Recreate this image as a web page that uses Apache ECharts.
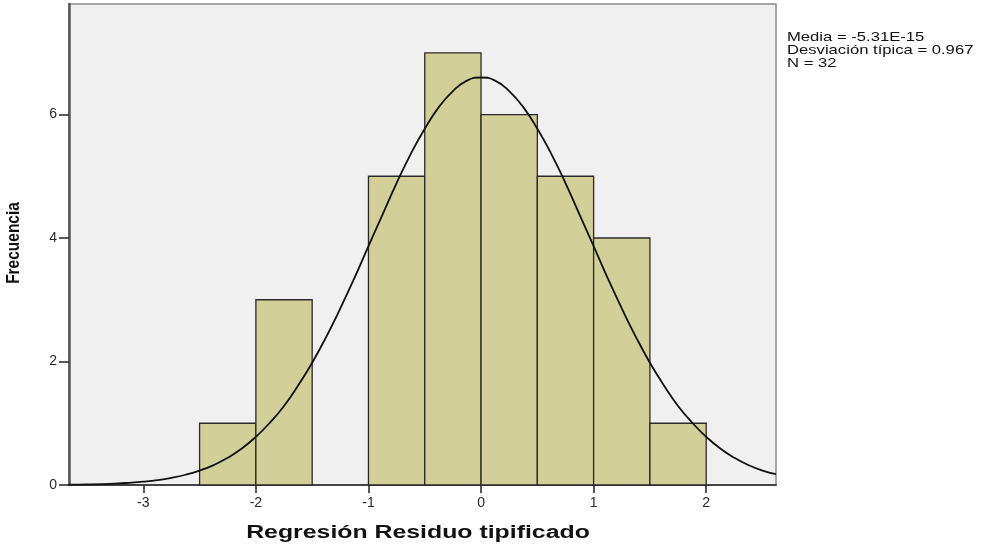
<!DOCTYPE html>
<html><head><meta charset="utf-8">
<script src="https://cdn.jsdelivr.net/npm/echarts@6/dist/echarts.min.js"></script>
<style>html,body{margin:0;padding:0;background:#fff}#c{width:995px;height:548px}</style>
</head><body><div id="c"></div>
<script>
// Histogram bins (start, end) and counts
const binStart = [-2.5, -2.0, -1.5, -1.0, -0.5, 0.0, 0.5, 1.0, 1.5];
const binEnd   = [-2.0, -1.5, -1.0, -0.5, 0.0, 0.5, 1.0, 1.5, 2.0];
const counts   = [1, 3, 0, 5, 7, 6, 5, 4, 1];
// Normal curve points
const curveX = [-3.66,-3.5,-3.25,-3.125,-3.0,-2.875,-2.75,-2.625,-2.5,-2.375,-2.25,-2.125,-2.0,-1.875,-1.75,-1.625,-1.5,-1.375,-1.25,-1.125,-1.0,-0.875,-0.75,-0.625,-0.5,-0.375,-0.25,-0.125,0.0,0.125,0.25,0.375,0.5,0.625,0.75,0.875,1.0,1.125,1.25,1.375,1.5,1.625,1.75,1.875,2.0,2.125,2.25,2.375,2.5,2.62];
const curveY = [0.005,0.009,0.023,0.036,0.054,0.079,0.116,0.166,0.233,0.323,0.44,0.59,0.78,1.01,1.28,1.61,1.98,2.40,2.86,3.35,3.87,4.38,4.89,5.36,5.77,6.12,6.38,6.55,6.60,6.55,6.38,6.12,5.77,5.36,4.89,4.38,3.87,3.35,2.86,2.40,1.98,1.61,1.28,1.01,0.78,0.59,0.44,0.323,0.233,0.175];
const xTicks = [-3, -2, -1, 0, 1, 2];
const yTicks = [0, 2, 4, 6];
const xTitle = 'Regresión Residuo tipificado';
const yTitle = 'Frecuencia';
const statsLines = ['Media = -5.31E-15', 'Desviación típica = 0.967', 'N = 32'];

const chart = echarts.init(document.getElementById('c'), null, {renderer: 'canvas'});
const rectData = binStart.map((s, i) => [s, binEnd[i], counts[i]]).filter(d => d[2] > 0);

chart.setOption({
  animation: false,
  grid: {left: 69, right: 219, top: 4, bottom: 63, show: true, backgroundColor: '#f0f0f0', borderColor: '#8c8c8c', borderWidth: 1.5},
  xAxis: {
    type: 'value', min: -3.66, max: 2.62,
    axisLine: {show: true, onZero: false, lineStyle: {color: '#444', width: 2}},
    axisTick: {show: true, length: 8, customValues: xTicks, lineStyle: {color: '#222', width: 1.5}},
    axisLabel: {customValues: xTicks, fontFamily: 'Liberation Sans', fontSize: 14, color: '#2a2a2a', margin: 11},
    splitLine: {show: false}
  },
  yAxis: {
    type: 'value', min: 0, max: 7.79,
    axisLine: {show: true, onZero: false, lineStyle: {color: '#555', width: 2.5}},
    axisTick: {show: true, length: 10, customValues: yTicks, lineStyle: {color: '#222', width: 1.5}},
    axisLabel: {customValues: yTicks, fontFamily: 'Liberation Sans', fontSize: 14, color: '#2a2a2a', margin: 12},
    splitLine: {show: false}
  },
  series: [
    {
      type: 'custom',
      data: rectData,
      encode: {x: [0, 1], y: 2},
      renderItem: function (params, api) {
        const p0 = api.coord([api.value(0), api.value(2)]);
        const p1 = api.coord([api.value(1), 0]);
        return {
          type: 'rect',
          shape: {x: p0[0], y: p0[1], width: p1[0] - p0[0], height: p1[1] - p0[1]},
          style: {fill: '#d3cf98', stroke: '#2a2a2a', lineWidth: 1.3}
        };
      },
      z: 2
    },
    {
      type: 'line',
      data: curveX.map((x, i) => [x, curveY[i]]),
      smooth: true,
      showSymbol: false,
      lineStyle: {color: '#111', width: 1.8},
      z: 3
    }
  ],
  graphic: [
    {
      type: 'text', x: 787, y: 31, scaleX: 1.28,
      style: {text: statsLines.join('\n'), fontFamily: 'Liberation Sans', fontSize: 13, lineHeight: 13, fill: '#111'}
    },
    {
      type: 'text', x: 418, y: 533, scaleX: 1.38,
      style: {text: xTitle, fontFamily: 'Liberation Sans', fontWeight: 'bold', fontSize: 18, fill: '#111', align: 'center', verticalAlign: 'middle'}
    },
    {
      type: 'text', x: 14, y: 243, rotation: Math.PI / 2, scaleX: 0.86,
      style: {text: yTitle, fontFamily: 'Liberation Sans', fontWeight: 'bold', fontSize: 18, fill: '#111', align: 'center', verticalAlign: 'middle'}
    }
  ]
});
</script></body></html>
